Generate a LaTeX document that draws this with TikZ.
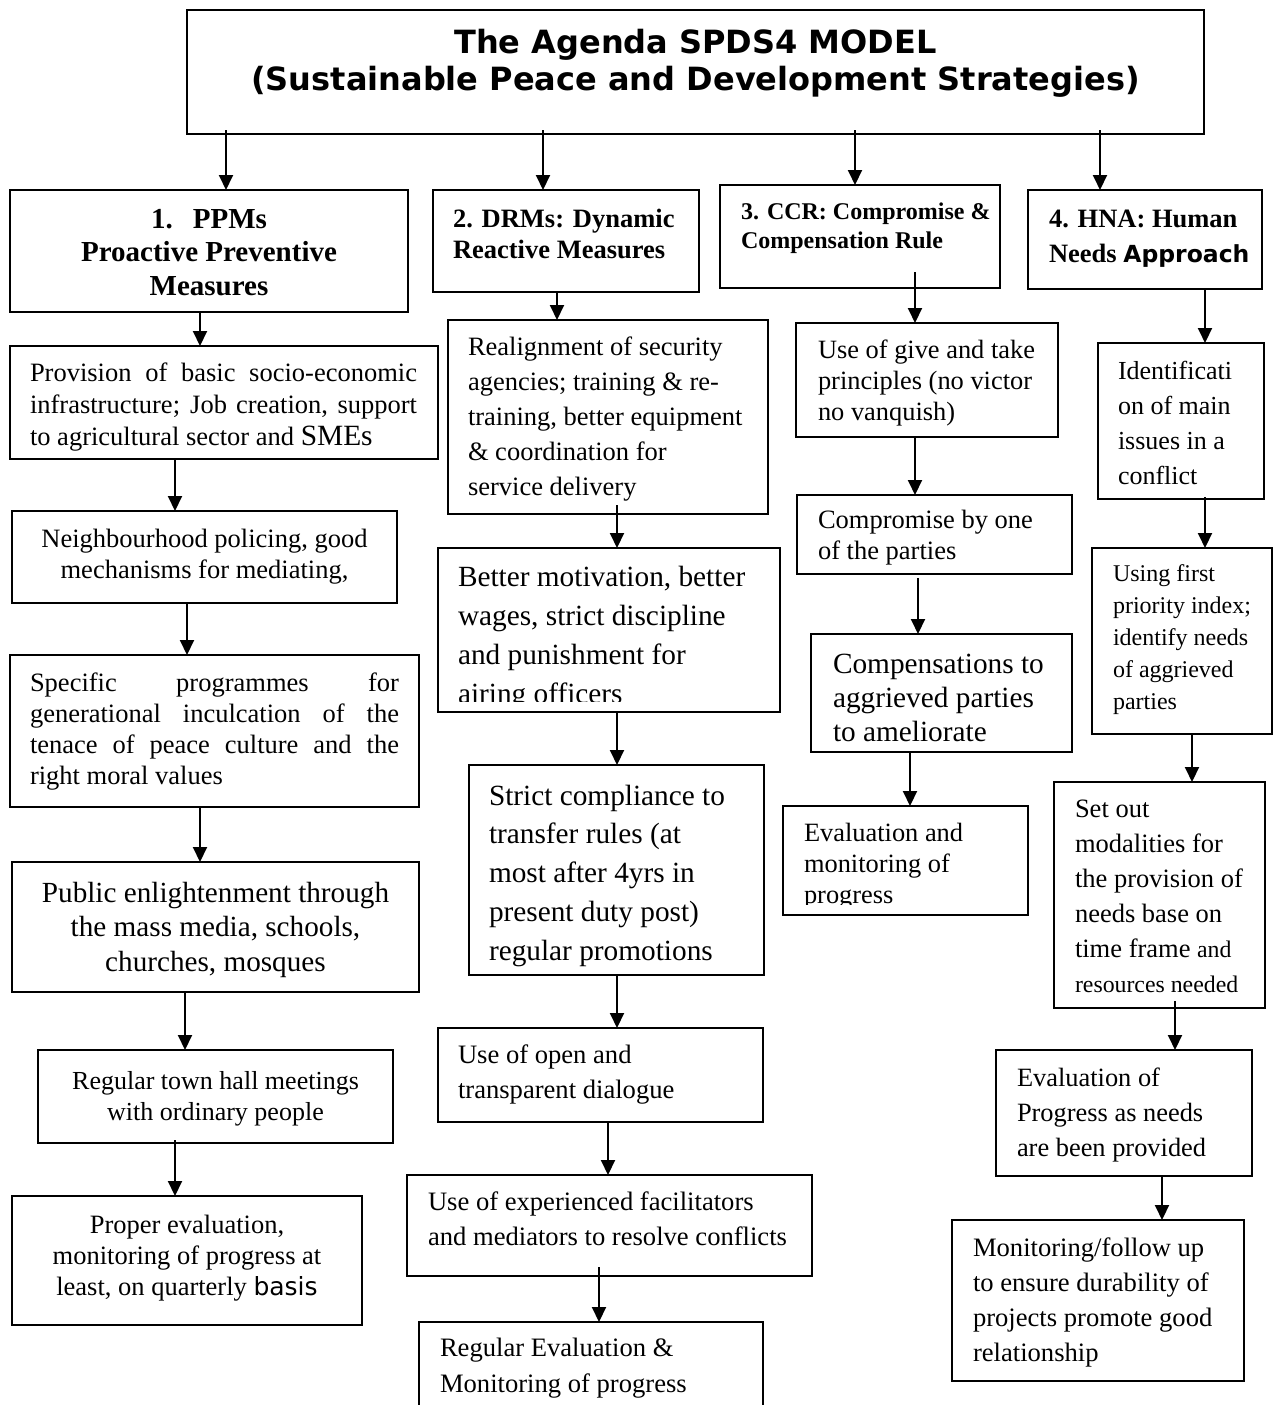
\documentclass[tikz,border=0pt]{standalone}
\usepackage{fontspec}
\setmainfont{Liberation Serif}
\newfontfamily\dvsans{DejaVu Sans}
\usetikzlibrary{arrows.meta,calc}
\newcommand\fsz[2]{\fontsize{#1pt}{#2pt}\selectfont}
\newcommand\jl[2]{\makebox[#1pt][s]{#2}}
\tikzset{
 box/.style={draw, line width=1.4pt, inner sep=0pt, outer sep=0pt, anchor=north west},
 txt/.style={anchor=base west, inner sep=0pt, outer sep=0pt},
 arr/.style={line width=2pt, -{Triangle[length=15pt,width=14pt]}},
}
\newcommand\mkbox[5]{\node[box, minimum width={(#4-#2)*1pt}, minimum height={(#5-#3)*1pt}] (#1) at (#2,#3) {};}
\begin{document}
\begin{tikzpicture}[x=1pt,y=-1pt]
\useasboundingbox[fill=white] (0,0) rectangle (1276,1405);
% ---------- boxes
\mkbox{title}{187}{10}{1204}{134}
\mkbox{h1}{10}{190}{408}{312}
\mkbox{h2}{433}{190}{699}{292}
\mkbox{h3}{720}{185}{1000}{288}
\mkbox{h4}{1028}{190}{1262}{289}
\mkbox{a1}{10}{346}{438}{459}
\mkbox{a2}{12}{511}{397}{603}
\mkbox{a3}{10}{655}{419}{807}
\mkbox{a4}{12}{862}{419}{992}
\mkbox{a5}{38}{1050}{393}{1143}
\mkbox{a6}{12}{1196}{362}{1325}
\mkbox{b1}{448}{320}{768}{514}
\mkbox{b2}{438}{548}{780}{712}
\mkbox{b3}{469}{765}{764}{975}
\mkbox{b4}{438}{1028}{763}{1122}
\mkbox{b5}{407}{1175}{812}{1276}
\mkbox{b6}{419}{1322}{763}{1430}
\mkbox{c1}{796}{323}{1058}{437}
\mkbox{c2}{797}{495}{1072}{574}
\mkbox{c3}{811}{634}{1072}{752}
\mkbox{c4}{783}{806}{1028}{915}
\mkbox{d1}{1098}{343}{1264}{499}
\mkbox{d2}{1092}{548}{1272}{734}
\mkbox{d3}{1054}{782}{1265}{1008}
\mkbox{d4}{996}{1050}{1252}{1176}
\mkbox{d5}{952}{1220}{1244}{1381}
% ---------- texts
\node[txt] (titlet) at (187,53) {\parbox[t]{1017pt}{\centering\dvsans\bfseries\fsz{32}{37}The Agenda SPDS4 MODEL\\(Sustainable Peace and Development Strategies)}};
\node[txt] (h1t) at (10,228) {\parbox[t]{398pt}{\centering\bfseries\fsz{29}{33.5}1.\hspace{20pt}PPMs\hspace*{38pt}\\Proactive Preventive\\Measures}};
\node[txt] (h2t) at (453,227) {\parbox[t]{246pt}{\raggedright\bfseries\fsz{26.5}{31}2. DRMs: Dynamic\\Reactive Measures}};
\node[txt] (h3t) at (741,219) {\parbox[t]{259pt}{\raggedright\bfseries\fsz{24}{29}3. CCR: Compromise \&\\Compensation Rule}};
\node[txt] (h4t) at (1049,227) {\parbox[t]{213pt}{\raggedright\bfseries\fsz{26.5}{35}4. HNA: Human\\Needs {\dvsans\fontsize{23.5pt}{35pt}\selectfont Approach}}};
% column 1
\node[txt] (a1t) at (30,381) {\parbox[t]{387pt}{\fsz{26.5}{32}\jl{387}{Provision of basic socio-economic}\\\jl{387}{infrastructure; Job creation, support}\\to agricultural sector and {\fontsize{29.4pt}{32pt}\selectfont SMEs}}};
\node[txt] (a2t) at (12,547) {\parbox[t]{385pt}{\centering\fsz{26.5}{31}Neighbourhood policing, good\\mechanisms for mediating,}};
\node[txt] (a3t) at (30,691) {\parbox[t]{369pt}{\fsz{26.5}{31}\jl{369}{Specific programmes for}\\\jl{369}{generational inculcation of the}\\\jl{369}{tenace of peace culture and the}\\right moral values}};
\node[txt] (a4t) at (12,902) {\parbox[t]{407pt}{\centering\fsz{29.2}{34.5}Public enlightenment through\\the mass media, schools,\\churches, mosques}};
\node[txt] (a5t) at (38,1089) {\parbox[t]{355pt}{\centering\fsz{26}{31}Regular town hall meetings\\with ordinary people}};
\node[txt] (a6t) at (12,1233) {\parbox[t]{350pt}{\centering\fsz{26.5}{31}Proper evaluation,\\monitoring of progress at\\least, on quarterly {\dvsans\fontsize{25pt}{31pt}\selectfont basis}}};
% column 2
\node[txt] (b1t) at (468,355) {\parbox[t]{300pt}{\raggedright\fsz{26.5}{35}Realignment of security\\agencies; training \& re-\\training, better equipment\\\& coordination for\\service delivery}};
\begin{scope}
\clip (438,548) rectangle (780,701);
\node[txt] (b2t) at (458,586) {\parbox[t]{320pt}{\raggedright\fsz{29.3}{39}Better motivation, better\\wages, strict discipline\\and punishment for\\airing officers}};
\end{scope}
\node[txt] (b3t) at (489,805) {\parbox[t]{275pt}{\raggedright\fsz{29.3}{38.75}Strict compliance to\\transfer rules (at\\most after 4yrs in\\present duty post)\\regular promotions}};
\node[txt] (b4t) at (458,1063) {\parbox[t]{305pt}{\raggedright\fsz{26.6}{35}Use of open and\\transparent dialogue}};
\node[txt] (b5t) at (428,1210) {\parbox[t]{384pt}{\raggedright\fsz{26.6}{35}Use of experienced facilitators\\and mediators to resolve conflicts}};
\node[txt] (b6t) at (440,1356) {\parbox[t]{323pt}{\raggedright\fsz{26.6}{36}Regular Evaluation \&\\Monitoring of progress}};
% column 3
\node[txt] (c1t) at (818,358) {\parbox[t]{240pt}{\raggedright\fsz{26.4}{31}Use of give and take\\principles (no victor\\no vanquish)}};
\node[txt] (c2t) at (818,528) {\parbox[t]{254pt}{\raggedright\fsz{26.5}{31}Compromise by one\\of the parties}};
\node[txt] (c3t) at (833,673) {\parbox[t]{239pt}{\raggedright\fsz{29.3}{34}Compensations to\\aggrieved parties\\to ameliorate}};
\begin{scope}
\clip (783,806) rectangle (1028,904);
\node[txt] (c4t) at (804,841) {\parbox[t]{224pt}{\raggedright\fsz{26.4}{31}Evaluation and\\monitoring of\\progress}};
\end{scope}
% column 4
\node[txt] (d1t) at (1118,379) {\parbox[t]{146pt}{\raggedright\fsz{26}{35.3}Identificati\\on of main\\issues in a\\conflict}};
\node[txt] (d2t) at (1113,581) {\parbox[t]{159pt}{\raggedright\fsz{24}{32}Using first\\priority index;\\identify needs\\of aggrieved\\parties}};
\node[txt] (d3t) at (1075,817) {\parbox[t]{190pt}{\raggedright\fsz{26.5}{35}Set out\\modalities for\\the provision of\\needs base on\\time frame {\fontsize{23.8pt}{35pt}\selectfont and}\\{\fontsize{23.8pt}{33pt}\selectfont resources needed}}};
\node[txt] (d4t) at (1017,1086) {\parbox[t]{235pt}{\raggedright\fsz{26.4}{35}Evaluation of\\Progress as needs\\are been provided}};
\node[txt] (d5t) at (973,1256) {\parbox[t]{271pt}{\raggedright\fsz{26.6}{35}Monitoring/follow up\\to ensure durability of\\projects promote good\\relationship}};
% ---------- arrow x positions
\coordinate (x1) at (226,0);
\coordinate (x2) at (543,0);
\coordinate (x3) at (855,0);
\coordinate (x4) at (1100,0);
\coordinate (xa1) at (200,0);
\coordinate (xa2) at (175,0);
\coordinate (xa3) at (187,0);
\coordinate (xa4) at (200,0);
\coordinate (xa5) at (185,0);
\coordinate (xa6) at (175,0);
\coordinate (xb1) at (557,0);
\coordinate (xb2) at (617,0);
\coordinate (xb3) at (617,0);
\coordinate (xb4) at (617,0);
\coordinate (xb5) at (608,0);
\coordinate (xb6) at (599,0);
\coordinate (xc1) at (915,0);
\coordinate (xc2) at (915,0);
\coordinate (xc3) at (918,0);
\coordinate (xc4) at (910,0);
\coordinate (xd1) at (1205,0);
\coordinate (xd2) at (1205,0);
\coordinate (xd3) at (1192,0);
\coordinate (xd4) at (1175,0);
\coordinate (xd5) at (1162,0);
% ---------- arrows
\draw[arr] ($(title.south -| x1)+(0,-4)$) -- (h1.north -| x1);
\draw[arr] ($(title.south -| x2)+(0,-4)$) -- (h2.north -| x2);
\draw[arr] ($(title.south -| x3)+(0,-4)$) -- (h3.north -| x3);
\draw[arr] ($(title.south -| x4)+(0,-4)$) -- (h4.north -| x4);
\draw[arr] (h1.south -| xa1) -- (a1.north -| xa1);
\draw[arr] (a1.south -| xa2) -- (a2.north -| xa2);
\draw[arr] (a2.south -| xa3) -- (a3.north -| xa3);
\draw[arr] (a3.south -| xa4) -- (a4.north -| xa4);
\draw[arr] (a4.south -| xa5) -- (a5.north -| xa5);
\draw[arr] ($(a5.south -| xa6)+(0,-3)$) -- (a6.north -| xa6);
\draw[arr] (h2.south -| xb1) -- (b1.north -| xb1);
\draw[arr] ($(b1.south -| xb2)+(0,-9)$) -- (b2.north -| xb2);
\draw[arr] (b2.south -| xb3) -- (b3.north -| xb3);
\draw[arr] (b3.south -| xb4) -- (b4.north -| xb4);
\draw[arr] (b4.south -| xb5) -- (b5.north -| xb5);
\draw[arr] ($(b5.south -| xb6)+(0,-9)$) -- (b6.north -| xb6);
\draw[arr] ($(h3.south -| xc1)+(0,-16)$) -- (c1.north -| xc1);
\draw[arr] (c1.south -| xc2) -- (c2.north -| xc2);
\draw[arr] ($(c2.south -| xc3)+(0,4)$) -- (c3.north -| xc3);
\draw[arr] (c3.south -| xc4) -- (c4.north -| xc4);
\draw[arr] (h4.south -| xd1) -- (d1.north -| xd1);
\draw[arr] ($(d1.south -| xd2)+(0,-2)$) -- (d2.north -| xd2);
\draw[arr] (d2.south -| xd3) -- (d3.north -| xd3);
\draw[arr] ($(d3.south -| xd4)+(0,-7)$) -- (d4.north -| xd4);
\draw[arr] (d4.south -| xd5) -- (d5.north -| xd5);
\end{tikzpicture}
\end{document}
